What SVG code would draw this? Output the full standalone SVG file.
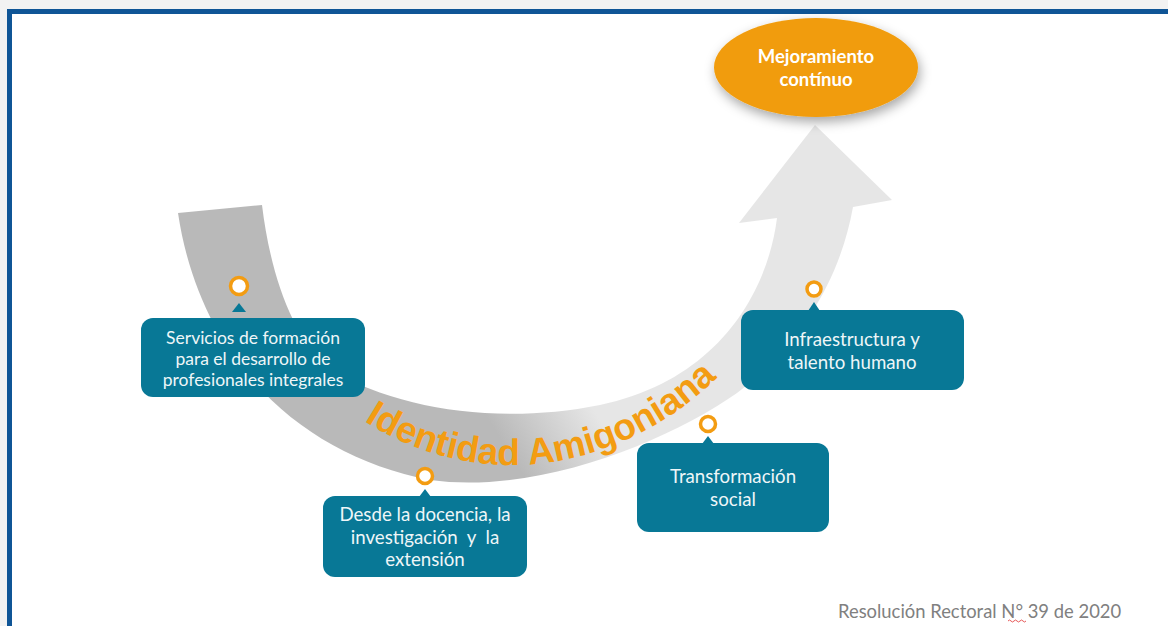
<svg xmlns="http://www.w3.org/2000/svg" width="1168" height="626" viewBox="0 0 1168 626">
<style>
.box{fill:#087896;}
.ptr{fill:#087896;}
.btxt{font-family:Lato,"Noto Sans",sans-serif;font-size:18.7px;fill:#eef6f8;text-anchor:middle;}
.ring{fill:#ffffff;stroke:#f39c12;stroke-width:3.5;}
.arc{font-family:"Liberation Sans",Arial,sans-serif;font-weight:bold;font-size:37px;fill:#f39c12;}
</style>
<defs>
<linearGradient id="bandGrad" gradientUnits="userSpaceOnUse" x1="520" y1="470" x2="600" y2="420">
<stop offset="0" stop-color="#b9b9b9"/>
<stop offset="1" stop-color="#e6e6e6"/>
</linearGradient>
<filter id="shadow" x="-30%" y="-30%" width="160%" height="180%">
<feDropShadow dx="2" dy="5" stdDeviation="6" flood-color="#000" flood-opacity="0.35"/>
</filter>
<path id="arcPath" d="M364,421 C410,450 460,465 510,465 C600,465 690,420 750,340"/>
</defs>
<rect x="0" y="0" width="1168" height="626" fill="#f2f2f2"/>
<rect x="9.5" y="11.5" width="1200" height="700" fill="#ffffff" stroke="#0f5596" stroke-width="5"/>
<g id="arrow">
<path d="M178,213 C200,360 300,455 430,480 C540,495 670,440 737,393 C800,345 840,280 853,207 L892,200 L815,125 L739,223 L777,218 C768,290 720,380 600,405 C500,425 400,410 330,370 C290,335 270,270 262,205 Z" fill="url(#bandGrad)"/>
</g>
<g id="arc-label">
<text class="arc"><textPath href="#arcPath" startOffset="0">Identidad Amigoniana</textPath></text>
</g>
<g id="ellipse-node" filter="url(#shadow)">
<ellipse cx="816" cy="67.5" rx="102" ry="49.5" fill="#f19c0b"/>
</g>
<g id="ellipse-text">
<text font-family="Lato,'Noto Sans',sans-serif" font-weight="bold" font-size="18.5" fill="#ffffff" text-anchor="middle"><tspan x="816" y="63">Mejoramiento</tspan><tspan x="816" y="86">contínuo</tspan></text>
</g>
<g id="connectors">
<circle class="ring" cx="239" cy="286" r="8.5"/>
<path class="ptr" d="M232,312 L239,303 L246,312 Z"/>
<circle class="ring" cx="425" cy="476" r="7.5"/>
<path class="ptr" d="M419,497 L425,489 L431,497 Z"/>
<circle class="ring" cx="708" cy="424" r="7.5"/>
<path class="ptr" d="M702,444 L708,436 L714,444 Z"/>
<circle class="ring" cx="814" cy="289" r="7"/>
<path class="ptr" d="M808,311 L814,302 L820,311 Z"/>
</g>
<g id="node-servicios">
<rect class="box" x="141" y="318" width="224" height="79" rx="12"/>
<text class="btxt" style="font-size:17.5px"><tspan x="253" y="344">Servicios de formación</tspan><tspan x="253" y="365">para el desarrollo de</tspan><tspan x="253" y="386">profesionales integrales</tspan></text>
</g>
<g id="node-desde">
<rect class="box" x="323" y="496" width="204" height="81" rx="12"/>
<text class="btxt"><tspan x="425" y="521">Desde la docencia, la</tspan><tspan x="425" y="544">investigación&#160; y&#160; la</tspan><tspan x="425" y="566">extensión</tspan></text>
</g>
<g id="node-transformacion">
<rect class="box" x="637" y="443" width="192" height="89" rx="12"/>
<text class="btxt"><tspan x="733" y="483">Transformación</tspan><tspan x="733" y="506">social</tspan></text>
</g>
<g id="node-infraestructura">
<rect class="box" x="741" y="310" width="223" height="80" rx="12"/>
<text class="btxt"><tspan x="852" y="346">Infraestructura y</tspan><tspan x="852" y="369">talento humano</tspan></text>
</g>
<g id="footnote">
<text x="838" y="618" font-family="Lato,'Noto Sans',sans-serif" font-size="18.4" fill="#808080">Resolución Rectoral N° 39 de 2020</text>
<path d="M1008,621 q1.5,-2 3,0 t3,0 t3,0 t3,0 t3,0 t3,0" fill="none" stroke="#e03030" stroke-width="0.8"/>
</g>
</svg>
